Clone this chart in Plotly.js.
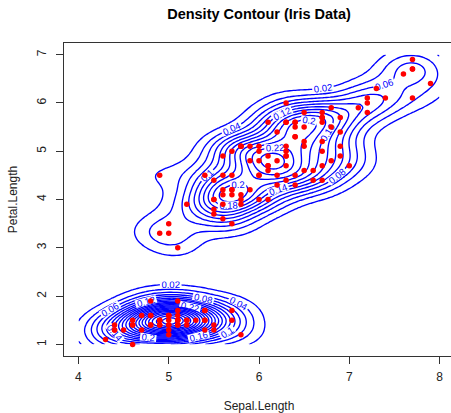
<!DOCTYPE html>
<html>
<head>
<meta charset="utf-8">
<script src="https://cdn.plot.ly/plotly-3.0.1.min.js"></script>
<style>
  html, body { margin: 0; padding: 0; overflow: hidden; background: #fff; }
  #chart { width: 460px; height: 413px; }
</style>
</head>
<body>
<div id="chart"></div>
<script>
// Iris measurements (Sepal.Length, Petal.Length), 150 flowers
const sepalLength = [
  5.1,4.9,4.7,4.6,5.0,5.4,4.6,5.0,4.4,4.9,5.4,4.8,4.8,4.3,5.8,5.7,5.4,5.1,5.7,5.1,
  5.4,5.1,4.6,5.1,4.8,5.0,5.0,5.2,5.2,4.7,4.8,5.4,5.2,5.5,4.9,5.0,5.5,4.9,4.4,5.1,
  5.0,4.5,4.4,5.0,5.1,4.8,5.1,4.6,5.3,5.0,
  7.0,6.4,6.9,5.5,6.5,5.7,6.3,4.9,6.6,5.2,5.0,5.9,6.0,6.1,5.6,6.7,5.6,5.8,6.2,5.6,
  5.9,6.1,6.3,6.1,6.4,6.6,6.8,6.7,6.0,5.7,5.5,5.5,5.8,6.0,5.4,6.0,6.7,6.3,5.6,5.5,
  5.5,6.1,5.8,5.0,5.6,5.7,5.7,6.2,5.1,5.7,
  6.3,5.8,7.1,6.3,6.5,7.6,4.9,7.3,6.7,7.2,6.5,6.4,6.8,5.7,5.8,6.4,6.5,7.7,7.7,6.0,
  6.9,5.6,7.7,6.3,6.7,7.2,6.2,6.1,6.4,7.2,7.4,7.9,6.4,6.3,6.1,7.7,6.3,6.4,6.0,6.9,
  6.7,6.9,5.8,6.8,6.7,6.7,6.3,6.5,6.2,5.9
];
const petalLength = [
  1.4,1.4,1.3,1.5,1.4,1.7,1.4,1.5,1.4,1.5,1.5,1.6,1.4,1.1,1.2,1.5,1.3,1.4,1.7,1.5,
  1.7,1.5,1.0,1.7,1.9,1.6,1.6,1.5,1.4,1.6,1.6,1.5,1.5,1.4,1.5,1.2,1.3,1.4,1.3,1.5,
  1.3,1.3,1.3,1.6,1.9,1.4,1.6,1.4,1.5,1.4,
  4.7,4.5,4.9,4.0,4.6,4.5,4.7,3.3,4.6,3.9,3.5,4.2,4.0,4.7,3.6,4.4,4.5,4.1,4.5,3.9,
  4.8,4.0,4.9,4.7,4.3,4.4,4.8,5.0,4.5,3.5,3.8,3.7,3.9,5.1,4.5,4.5,4.7,4.4,4.1,4.0,
  4.4,4.6,4.0,3.3,4.2,4.2,4.2,4.3,3.0,4.1,
  6.0,5.1,5.9,5.6,5.8,6.6,4.5,6.3,5.8,6.1,5.1,5.3,5.5,5.0,5.1,5.3,5.5,6.7,6.9,5.0,
  5.7,4.9,6.7,4.9,5.7,6.0,4.8,4.9,5.6,5.8,6.1,6.4,5.6,5.1,5.6,6.1,5.6,5.5,4.8,5.4,
  5.6,5.1,5.1,5.9,5.7,5.2,5.0,5.2,5.4,5.1
];

// Axis ticks
const xTicks = [4, 5, 6, 7, 8];
const yTicks = [1, 2, 3, 4, 5, 6, 7];

// Density estimation settings (grid limits, grid size, bandwidths)
const lims = [4, 8, 1, 7];
const gridN = 100;
const bandwidth = [1.0, 1.0];

// Contour levels: labelled outer levels and unlabelled inner levels
const levelStep = 0.02;
const labelledTop = 0.24;
const levelTop = 2.0;

// Bivariate Gaussian kernel density on a regular grid (kde2d-style, h/4 as sd)
function kde2d(x, y, h, n, lim) {
  const hx = h[0] / 4, hy = h[1] / 4;
  const gx = [], gy = [];
  for (let i = 0; i < n; i++) {
    gx.push(lim[0] + (lim[1] - lim[0]) * i / (n - 1));
    gy.push(lim[2] + (lim[3] - lim[2]) * i / (n - 1));
  }
  const norm = 1 / Math.sqrt(2 * Math.PI);
  const ax = x.map(() => new Array(n));
  const ay = y.map(() => new Array(n));
  for (let k = 0; k < x.length; k++) {
    for (let i = 0; i < n; i++) {
      const u = (gx[i] - x[k]) / hx;
      const v = (gy[i] - y[k]) / hy;
      ax[k][i] = norm * Math.exp(-0.5 * u * u);
      ay[k][i] = norm * Math.exp(-0.5 * v * v);
    }
  }
  const z = [];
  for (let j = 0; j < n; j++) {
    const row = new Array(n).fill(0);
    for (let i = 0; i < n; i++) {
      let s = 0;
      for (let k = 0; k < x.length; k++) s += ax[k][i] * ay[k][j];
      row[i] = s / (x.length * hx * hy);
    }
    z.push(row);
  }
  return { x: gx, y: gy, z: z };
}

const dens = kde2d(sepalLength, petalLength, bandwidth, gridN, lims);

const font = "'Liberation Sans', Arial, Helvetica, sans-serif";
const blue = '#0000ff';

function contourTrace(start, end, labels) {
  return {
    type: 'contour',
    x: dens.x, y: dens.y, z: dens.z,
    showscale: false,
    contours: {
      start: start, end: end, size: levelStep,
      coloring: 'none',
      showlabels: labels,
      labelformat: '.2~f',
      labelfont: { family: font, size: 9.5, color: blue }
    },
    line: { color: blue, width: 1.35, smoothing: 1 },
    hoverinfo: 'skip'
  };
}

const traces = [
  contourTrace(labelledTop + levelStep, levelTop, false),
  contourTrace(levelStep, labelledTop, true),
  {
    type: 'scatter', mode: 'markers',
    x: sepalLength, y: petalLength,
    marker: { color: '#ff0000', size: 5.5 },
    hoverinfo: 'skip'
  }
];

const layout = {
  width: 460, height: 413,
  margin: { l: 64, r: 6, t: 43, b: 57 },
  paper_bgcolor: '#ffffff', plot_bgcolor: '#ffffff',
  showlegend: false,
  font: { family: font, size: 12, color: '#222' },
  title: {
    text: '<b>Density Contour (Iris Data)</b>',
    font: { family: font, size: 14.5, color: '#000' },
    x: 0.5, xref: 'paper', xanchor: 'center',
    y: 1 - 14 / 413, yref: 'container', yanchor: 'middle'
  },
  xaxis: {
    range: [3.84, 8.16], tickvals: xTicks, ticktext: xTicks.map(String),
    ticks: 'outside', ticklen: 7, tickcolor: '#333', tickwidth: 1,
    ticklabelstandoff: 3,
    showline: true, mirror: true, linecolor: '#333', linewidth: 1,
    showgrid: false, zeroline: false,
    tickfont: { family: font, size: 12, color: '#222' },
    title: { text: 'Sepal.Length', font: { family: font, size: 12, color: '#222' }, standoff: 20 }
  },
  yaxis: {
    range: [0.76, 7.24], tickvals: yTicks, ticktext: yTicks.map(String),
    ticks: 'outside', ticklen: 7, tickcolor: '#333', tickwidth: 1,
    tickangle: -90, ticklabelstandoff: 5,
    showline: true, mirror: true, linecolor: '#333', linewidth: 1,
    showgrid: false, zeroline: false,
    tickfont: { family: font, size: 12, color: '#222' },
    title: { text: 'Petal.Length', font: { family: font, size: 12, color: '#222' }, standoff: 15 }
  }
};

Plotly.newPlot('chart', traces, layout, { staticPlot: true, displayModeBar: false });
</script>
</body>
</html>
